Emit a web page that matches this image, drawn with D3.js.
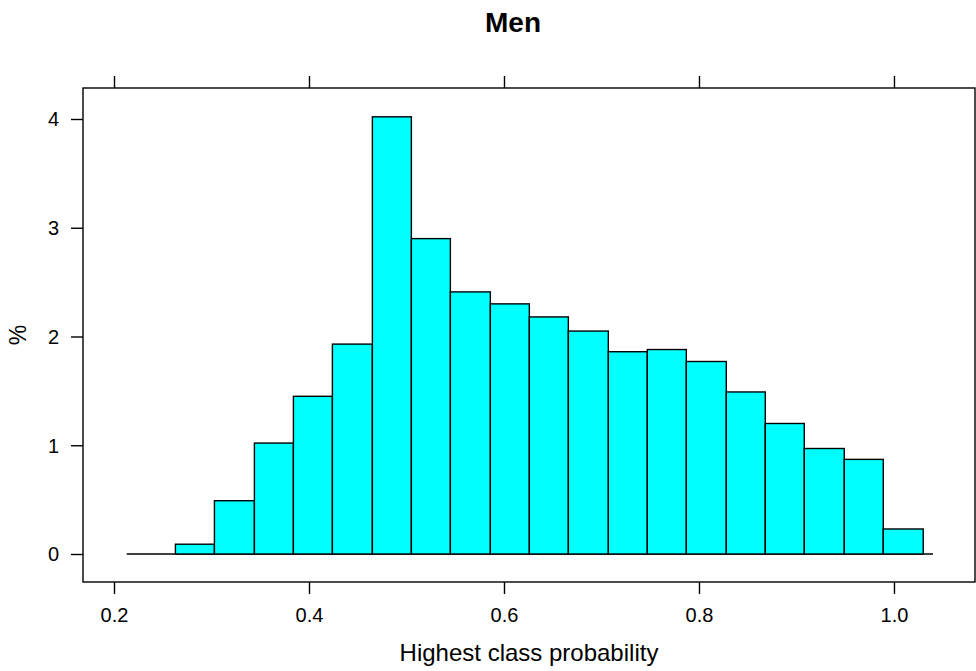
<!DOCTYPE html>
<html>
<head>
<meta charset="utf-8">
<script src="https://cdn.jsdelivr.net/npm/d3@7"></script>
<style>
  html, body { margin: 0; padding: 0; background: #fff; }
  svg { display: block; }
  text { font-family: "Liberation Sans", Arial, sans-serif; fill: #000; }
</style>
</head>
<body>
<svg id="chart" width="976" height="671"></svg>
<script>
// ---- data ----
const title = "Men";
const xLabel = "Highest class probability";
const yLabel = "%";
const binBreaks = [0.263, 0.303, 0.344, 0.384, 0.424, 0.465, 0.505, 0.545, 0.586, 0.626,
                   0.666, 0.707, 0.747, 0.787, 0.828, 0.868, 0.908, 0.949, 0.989, 1.030];
const percents = [0.09, 0.49, 1.02, 1.45, 1.93, 4.02, 2.90, 2.41, 2.30, 2.18,
                  2.05, 1.86, 1.88, 1.77, 1.49, 1.20, 0.97, 0.87, 0.23];
const baselineRange = [0.213, 1.040];
const xTicks = [0.2, 0.4, 0.6, 0.8, 1.0];
const xTickLabels = ["0.2", "0.4", "0.6", "0.8", "1.0"];
const yTicks = [0, 1, 2, 3, 4];
const yTickLabels = ["0", "1", "2", "3", "4"];
const xDomain = [0.1682, 1.0831];
const yDomain = [-0.2575, 4.285];

// ---- layout ----
const panel = { left: 83, right: 975, top: 88, bottom: 582 };
const svg = d3.select("#chart");

const x = d3.scaleLinear().domain(xDomain).range([panel.left, panel.right]);
const y = d3.scaleLinear().domain(yDomain).range([panel.bottom, panel.top]);

const bins = percents.map((v, i) => ({ x0: binBreaks[i], x1: binBreaks[i + 1], v }));

// baseline
svg.append("line")
  .attr("x1", x(baselineRange[0])).attr("x2", x(baselineRange[1]))
  .attr("y1", y(0)).attr("y2", y(0))
  .attr("stroke", "#000").attr("stroke-width", 1.4);

// bars
svg.append("g").selectAll("rect").data(bins).join("rect")
  .attr("x", d => x(d.x0))
  .attr("width", d => x(d.x1) - x(d.x0))
  .attr("y", d => y(d.v))
  .attr("height", d => y(0) - y(d.v))
  .attr("fill", "#00FFFF")
  .attr("stroke", "#000")
  .attr("stroke-width", 1.4);

// panel border
svg.append("rect")
  .attr("x", panel.left).attr("y", panel.top)
  .attr("width", panel.right - panel.left).attr("height", panel.bottom - panel.top)
  .attr("fill", "none").attr("stroke", "#000").attr("stroke-width", 1.4);

function styleAxis(g) {
  g.select(".domain").remove();
  g.selectAll(".tick line").attr("stroke", "#000").attr("stroke-width", 1.4);
}

// bottom axis
const gB = svg.append("g").attr("transform", `translate(0,${panel.bottom})`)
  .call(d3.axisBottom(x).tickValues(xTicks).tickSize(12).tickSizeOuter(0)
    .tickFormat((d, i) => xTickLabels[i]));
styleAxis(gB);
gB.selectAll(".tick text")
  .attr("y", 40).attr("dy", 0)
  .attr("font-size", 20).attr("font-family", "Liberation Sans, Arial, sans-serif")
  .attr("fill", "#000");

// top axis (ticks only)
const gT = svg.append("g").attr("transform", `translate(0,${panel.top})`)
  .call(d3.axisTop(x).tickValues(xTicks).tickSize(12).tickSizeOuter(0).tickFormat(""));
styleAxis(gT);

// left axis
const gL = svg.append("g").attr("transform", `translate(${panel.left},0)`)
  .call(d3.axisLeft(y).tickValues(yTicks).tickSize(12).tickSizeOuter(0)
    .tickFormat((d, i) => yTickLabels[i]));
styleAxis(gL);
gL.selectAll(".tick text")
  .attr("x", -24).attr("dy", "0.35em")
  .attr("font-size", 20).attr("font-family", "Liberation Sans, Arial, sans-serif")
  .attr("fill", "#000");

// title
svg.append("text")
  .attr("x", 513).attr("y", 31.5)
  .attr("text-anchor", "middle")
  .attr("font-size", 28).attr("font-weight", "bold")
  .text(title);

// x label
svg.append("text")
  .attr("x", (panel.left + panel.right) / 2).attr("y", 661)
  .attr("text-anchor", "middle")
  .attr("font-size", 24)
  .text(xLabel);

// y label
svg.append("text")
  .attr("transform", `translate(18,${(panel.top + panel.bottom) / 2}) rotate(-90)`)
  .attr("text-anchor", "middle")
  .attr("dy", "0.35em")
  .attr("font-size", 23)
  .text(yLabel);
</script>
</body>
</html>
